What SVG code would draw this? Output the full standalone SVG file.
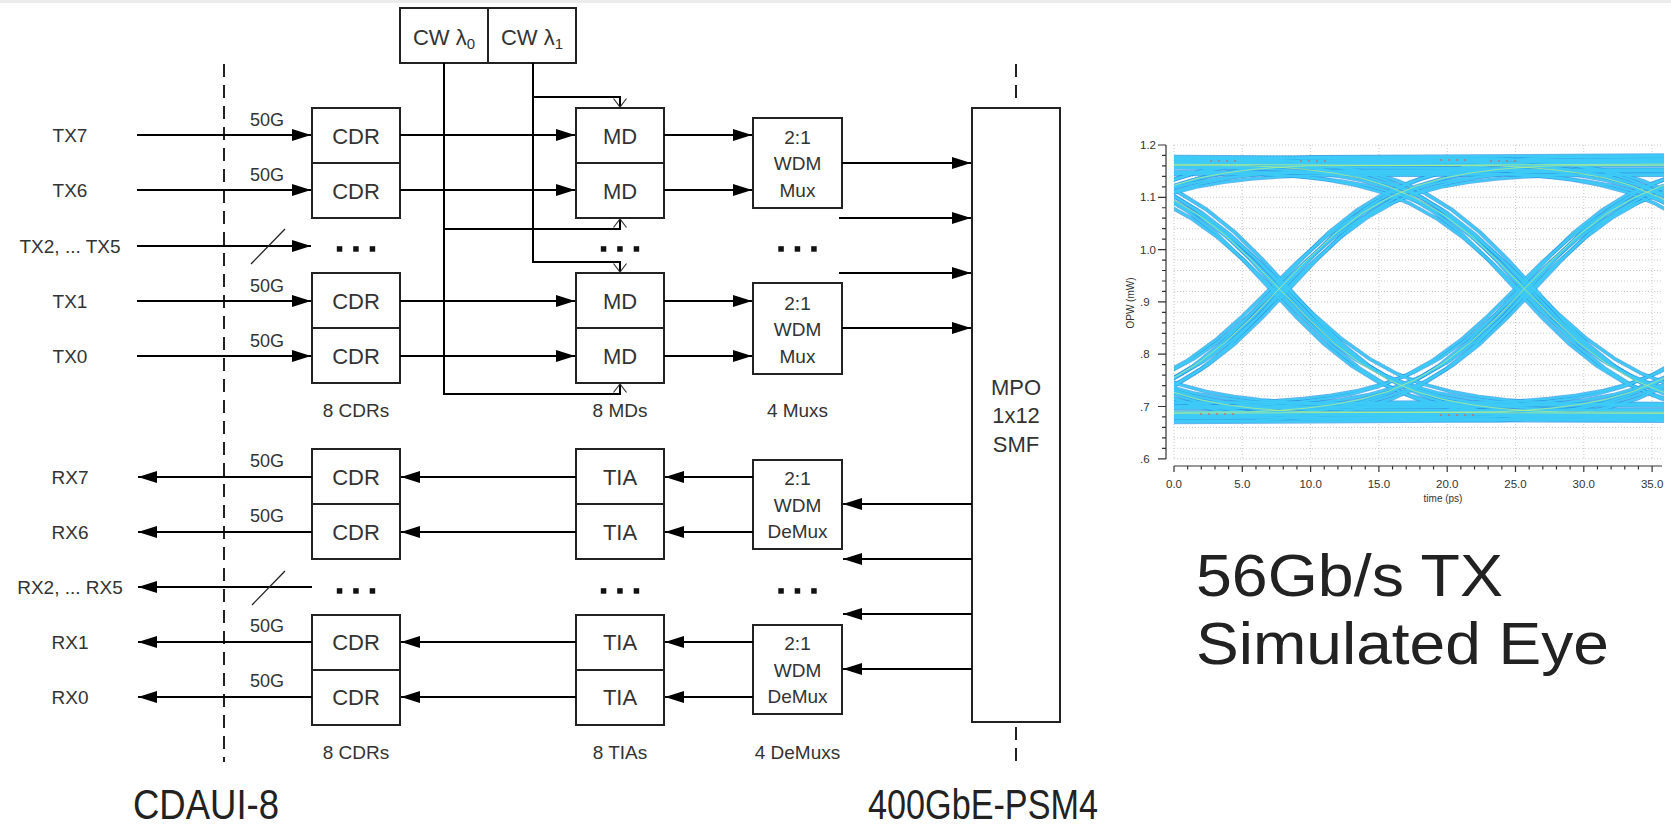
<svg xmlns="http://www.w3.org/2000/svg" width="1671" height="828" viewBox="0 0 1671 828">
<style>
.ln{stroke:#000;stroke-width:2;fill:none}
.sl{stroke:#222;stroke-width:1.3;fill:none}
.box{fill:#fff;stroke:#222;stroke-width:2}
.dv{stroke:#222;stroke-width:2}
.t{font-family:"Liberation Sans",Arial,sans-serif;fill:#333}
.lbl{font-size:19px;text-anchor:middle}
.bl{font-size:22px;text-anchor:middle}
.sm{font-size:19px;text-anchor:middle}
.g50{font-size:18px}
.dash{stroke:#222;stroke-width:2;stroke-dasharray:13 8;fill:none}
.dot{fill:#111}
.pt{font-family:"Liberation Sans",Arial,sans-serif;font-size:11.5px;fill:#333}
.grid{stroke:#c8c8c8;stroke-width:1;stroke-dasharray:1 2;fill:none}
.ax{stroke:#333;stroke-width:1.2;fill:none}
.big{font-family:"Liberation Sans",Arial,sans-serif;fill:#222}
</style>
<defs>
<marker id="ah" markerUnits="userSpaceOnUse" markerWidth="19" markerHeight="12" refX="19" refY="6" orient="auto"><path d="M0,0 L19,6 L0,12 Z" fill="#000"/></marker>
<marker id="chev" markerUnits="userSpaceOnUse" markerWidth="11" markerHeight="15" refX="9.5" refY="7" orient="auto"><path d="M1,0.5 L9.5,7 L1,13.5" fill="none" stroke="#333" stroke-width="1.2"/></marker>
<clipPath id="pc"><rect x="1174" y="145" width="490" height="315"/></clipPath>
<polyline id="e" points="-700,125 -273.2,123 -245.9,121.6 -218.6,119.4 -191.2,115.8 -163.9,110.6 -136.6,102.7 -109.3,91.1 -82,75 -54.6,54 -27.3,28.4 0,0 27.3,-28.4 54.6,-54 82,-75 109.3,-91.1 136.6,-102.7 163.9,-110.6 191.2,-115.8 218.6,-119.4 245.9,-121.6 273.2,-123 700,-125"/>
<g id="xing">
<use href="#e" transform="translate(-9,0) scale(1,0.95)"/>
<use href="#e" transform="translate(-5,0) scale(1,1.04)"/>
<use href="#e" transform="translate(-2,0) scale(1,0.92)"/>
<use href="#e" transform="translate(1,0) scale(1,1)"/>
<use href="#e" transform="translate(4,0) scale(1,1.07)"/>
<use href="#e" transform="translate(7,0) scale(1,0.96)"/>
<use href="#e" transform="translate(10,0) scale(1,1.02)"/>
<use href="#e" transform="translate(-9,0) scale(1,-1.03)"/>
<use href="#e" transform="translate(-6,0) scale(1,-0.94)"/>
<use href="#e" transform="translate(-2,0) scale(1,-1.06)"/>
<use href="#e" transform="translate(1,0) scale(1,-0.98)"/>
<use href="#e" transform="translate(5,0) scale(1,-1.01)"/>
<use href="#e" transform="translate(8,0) scale(1,-0.93)"/>
<use href="#e" transform="translate(10,0) scale(1,-1.05)"/>
</g>
</defs>
<rect x="0" y="0" width="1671" height="828" fill="#fff"/>
<rect x="0" y="0" width="1671" height="3" fill="#ebebeb"/>

<!-- interface boundaries -->
<g id="boundaries">
<line class="dash" x1="224" y1="64" x2="224" y2="762"/>
<line class="dash" x1="1016" y1="64" x2="1016" y2="100"/>
<line class="dash" x1="1016" y1="727" x2="1016" y2="764"/>
</g>

<!-- nodes -->
<g id="cw-sources">
<rect class="box" x="400" y="8" width="176" height="55"/>
<line class="dv" x1="488" y1="8" x2="488" y2="63"/>
<text class="t bl" x="444" y="45">CW λ<tspan font-size="15" dy="4">0</tspan></text>
<text class="t bl" x="532" y="45">CW λ<tspan font-size="15" dy="4">1</tspan></text>
</g>

<g id="tx-labels">
<text class="t lbl" x="70" y="142">TX7</text>
<text class="t lbl" x="70" y="197">TX6</text>
<text class="t lbl" x="70" y="253">TX2, ... TX5</text>
<text class="t lbl" x="70" y="308">TX1</text>
<text class="t lbl" x="70" y="363">TX0</text>
</g>
<g id="rx-labels">
<text class="t lbl" x="70" y="484">RX7</text>
<text class="t lbl" x="70" y="539">RX6</text>
<text class="t lbl" x="70" y="594">RX2, ... RX5</text>
<text class="t lbl" x="70" y="649">RX1</text>
<text class="t lbl" x="70" y="704">RX0</text>
</g>
<g id="rate-labels">
<text class="t g50" x="250" y="126">50G</text>
<text class="t g50" x="250" y="181">50G</text>
<text class="t g50" x="250" y="292">50G</text>
<text class="t g50" x="250" y="347">50G</text>
<text class="t g50" x="250" y="467">50G</text>
<text class="t g50" x="250" y="522">50G</text>
<text class="t g50" x="250" y="632">50G</text>
<text class="t g50" x="250" y="687">50G</text>
</g>

<g id="tx-cdr-a">
<rect class="box" x="312" y="108" width="88" height="110"/>
<line class="dv" x1="312" y1="163" x2="400" y2="163"/>
<text class="t bl" x="356" y="143.5">CDR</text>
<text class="t bl" x="356" y="198.5">CDR</text>
</g>
<g id="tx-cdr-b">
<rect class="box" x="312" y="273" width="88" height="110"/>
<line class="dv" x1="312" y1="328" x2="400" y2="328"/>
<text class="t bl" x="356" y="308.5">CDR</text>
<text class="t bl" x="356" y="363.5">CDR</text>
</g>
<g id="md-a">
<rect class="box" x="576" y="108" width="88" height="110"/>
<line class="dv" x1="576" y1="163" x2="664" y2="163"/>
<text class="t bl" x="620" y="143.5">MD</text>
<text class="t bl" x="620" y="198.5">MD</text>
</g>
<g id="md-b">
<rect class="box" x="576" y="273" width="88" height="110"/>
<line class="dv" x1="576" y1="328" x2="664" y2="328"/>
<text class="t bl" x="620" y="308.5">MD</text>
<text class="t bl" x="620" y="363.5">MD</text>
</g>
<g id="mux-a">
<rect class="box" x="753" y="118" width="89" height="90"/>
<text class="t sm" x="797.5" y="144">2:1</text>
<text class="t sm" x="797.5" y="170">WDM</text>
<text class="t sm" x="797.5" y="197">Mux</text>
</g>
<g id="mux-b">
<rect class="box" x="753" y="283" width="89" height="91"/>
<text class="t sm" x="797.5" y="309.5">2:1</text>
<text class="t sm" x="797.5" y="336">WDM</text>
<text class="t sm" x="797.5" y="362.5">Mux</text>
</g>
<g id="mpo">
<rect class="box" x="972" y="108" width="88" height="614"/>
<text class="t bl" x="1016" y="395">MPO</text>
<text class="t bl" x="1016" y="423">1x12</text>
<text class="t bl" x="1016" y="452">SMF</text>
</g>
<g id="rx-cdr-a">
<rect class="box" x="312" y="449" width="88" height="110"/>
<line class="dv" x1="312" y1="504" x2="400" y2="504"/>
<text class="t bl" x="356" y="485">CDR</text>
<text class="t bl" x="356" y="540">CDR</text>
</g>
<g id="rx-cdr-b">
<rect class="box" x="312" y="615" width="88" height="110"/>
<line class="dv" x1="312" y1="670" x2="400" y2="670"/>
<text class="t bl" x="356" y="650">CDR</text>
<text class="t bl" x="356" y="705">CDR</text>
</g>
<g id="tia-a">
<rect class="box" x="576" y="449" width="88" height="110"/>
<line class="dv" x1="576" y1="504" x2="664" y2="504"/>
<text class="t bl" x="620" y="485">TIA</text>
<text class="t bl" x="620" y="540">TIA</text>
</g>
<g id="tia-b">
<rect class="box" x="576" y="615" width="88" height="110"/>
<line class="dv" x1="576" y1="670" x2="664" y2="670"/>
<text class="t bl" x="620" y="650">TIA</text>
<text class="t bl" x="620" y="705">TIA</text>
</g>
<g id="demux-a">
<rect class="box" x="753" y="460" width="89" height="89"/>
<text class="t sm" x="797.5" y="485">2:1</text>
<text class="t sm" x="797.5" y="511.5">WDM</text>
<text class="t sm" x="797.5" y="538">DeMux</text>
</g>
<g id="demux-b">
<rect class="box" x="753" y="625" width="89" height="89"/>
<text class="t sm" x="797.5" y="650">2:1</text>
<text class="t sm" x="797.5" y="676.5">WDM</text>
<text class="t sm" x="797.5" y="703">DeMux</text>
</g>

<g id="ellipses">
<rect class="dot" x="336.8" y="246.2" width="5.5" height="5.5"/><rect class="dot" x="353.2" y="246.2" width="5.5" height="5.5"/><rect class="dot" x="369.7" y="246.2" width="5.5" height="5.5"/>
<rect class="dot" x="600.8" y="246.2" width="5.5" height="5.5"/><rect class="dot" x="617.2" y="246.2" width="5.5" height="5.5"/><rect class="dot" x="633.7" y="246.2" width="5.5" height="5.5"/>
<rect class="dot" x="778.3" y="246.2" width="5.5" height="5.5"/><rect class="dot" x="794.7" y="246.2" width="5.5" height="5.5"/><rect class="dot" x="811.2" y="246.2" width="5.5" height="5.5"/>
<rect class="dot" x="336.8" y="588.2" width="5.5" height="5.5"/><rect class="dot" x="353.2" y="588.2" width="5.5" height="5.5"/><rect class="dot" x="369.7" y="588.2" width="5.5" height="5.5"/>
<rect class="dot" x="600.8" y="588.2" width="5.5" height="5.5"/><rect class="dot" x="617.2" y="588.2" width="5.5" height="5.5"/><rect class="dot" x="633.7" y="588.2" width="5.5" height="5.5"/>
<rect class="dot" x="778.3" y="588.2" width="5.5" height="5.5"/><rect class="dot" x="794.7" y="588.2" width="5.5" height="5.5"/><rect class="dot" x="811.2" y="588.2" width="5.5" height="5.5"/>
</g>

<g id="count-labels">
<text class="t sm" x="356" y="417">8 CDRs</text>
<text class="t sm" x="620" y="417">8 MDs</text>
<text class="t sm" x="797.5" y="417">4 Muxs</text>
<text class="t sm" x="356" y="759">8 CDRs</text>
<text class="t sm" x="620" y="759">8 TIAs</text>
<text class="t sm" x="797.5" y="759">4 DeMuxs</text>
</g>

<!-- connectors -->
<g id="connectors">
<path class="ln" d="M137,135 H311" marker-end="url(#ah)"/>
<path class="ln" d="M137,190 H311" marker-end="url(#ah)"/>
<path class="ln" d="M137,246 H311" marker-end="url(#ah)"/>
<path class="ln" d="M137,301 H311" marker-end="url(#ah)"/>
<path class="ln" d="M137,356 H311" marker-end="url(#ah)"/>
<path class="sl" d="M251,264 L285,229"/>
<path class="ln" d="M400,135 H575" marker-end="url(#ah)"/>
<path class="ln" d="M400,190 H575" marker-end="url(#ah)"/>
<path class="ln" d="M400,301 H575" marker-end="url(#ah)"/>
<path class="ln" d="M400,356 H575" marker-end="url(#ah)"/>
<path class="ln" d="M664,135 H752" marker-end="url(#ah)"/>
<path class="ln" d="M664,190 H752" marker-end="url(#ah)"/>
<path class="ln" d="M664,301 H752" marker-end="url(#ah)"/>
<path class="ln" d="M664,356 H752" marker-end="url(#ah)"/>
<path class="ln" d="M842,163 H971" marker-end="url(#ah)"/>
<path class="ln" d="M839,218 H971" marker-end="url(#ah)"/>
<path class="ln" d="M839,273 H971" marker-end="url(#ah)"/>
<path class="ln" d="M842,328 H971" marker-end="url(#ah)"/>
<path class="ln" d="M533,63 V262 H620 V272" marker-end="url(#chev)"/>
<path class="ln" d="M533,97 H620 V107" marker-end="url(#chev)"/>
<path class="ln" d="M444,63 V394 H620 V384" marker-end="url(#chev)"/>
<path class="ln" d="M444,229 H620 V219" marker-end="url(#chev)"/>
<path class="ln" d="M972,504 H843" marker-end="url(#ah)"/>
<path class="ln" d="M972,559 H843" marker-end="url(#ah)"/>
<path class="ln" d="M972,614 H843" marker-end="url(#ah)"/>
<path class="ln" d="M972,669 H843" marker-end="url(#ah)"/>
<path class="ln" d="M753,477 H665" marker-end="url(#ah)"/>
<path class="ln" d="M753,532 H665" marker-end="url(#ah)"/>
<path class="ln" d="M753,642 H665" marker-end="url(#ah)"/>
<path class="ln" d="M753,697 H665" marker-end="url(#ah)"/>
<path class="ln" d="M576,477 H401" marker-end="url(#ah)"/>
<path class="ln" d="M576,532 H401" marker-end="url(#ah)"/>
<path class="ln" d="M576,642 H401" marker-end="url(#ah)"/>
<path class="ln" d="M576,697 H401" marker-end="url(#ah)"/>
<path class="ln" d="M312,477 H138" marker-end="url(#ah)"/>
<path class="ln" d="M312,532 H138" marker-end="url(#ah)"/>
<path class="ln" d="M312,587 H138" marker-end="url(#ah)"/>
<path class="ln" d="M312,642 H138" marker-end="url(#ah)"/>
<path class="ln" d="M312,697 H138" marker-end="url(#ah)"/>
<path class="sl" d="M252,605 L285,571"/>
</g>

<g id="interface-names">
<text class="big" x="133" y="819" font-size="43" textLength="146" lengthAdjust="spacingAndGlyphs">CDAUI-8</text>
<text class="big" x="868" y="819" font-size="43" textLength="230" lengthAdjust="spacingAndGlyphs">400GbE-PSM4</text>
</g>

<!-- eye diagram -->
<g id="eye-plot">
<path class="grid" d="M1174,145H1662M1174,155.46H1662M1174,165.92H1662M1174,176.38H1662M1174,186.84H1662M1174,197.3H1662M1174,207.76H1662M1174,218.22H1662M1174,228.68H1662M1174,239.14H1662M1174,249.6H1662M1174,260.06H1662M1174,270.52H1662M1174,280.98H1662M1174,291.44H1662M1174,301.9H1662M1174,312.36H1662M1174,322.82H1662M1174,333.28H1662M1174,343.74H1662M1174,354.2H1662M1174,364.66H1662M1174,375.12H1662M1174,385.58H1662M1174,396.04H1662M1174,406.5H1662M1174,416.96H1662M1174,427.42H1662M1174,437.88H1662M1174,448.34H1662M1174,458.8H1662M1174,145V459M1242.3,145V459M1310.6,145V459M1378.9,145V459M1447.2,145V459M1515.5,145V459M1583.8,145V459M1652.1,145V459"/>
<g clip-path="url(#pc)" fill="none" stroke-linejoin="round">
<g stroke="#2394e6" stroke-width="4" stroke-opacity="0.7">
<use href="#xing" x="1034.3" y="288.8"/>
<use href="#xing" x="1279.2" y="288.8"/>
<use href="#xing" x="1524.4" y="288.8"/>
<use href="#xing" x="1769.6" y="288.8"/>
</g>
<g stroke="#3dcaf6" stroke-width="2">
<use href="#xing" x="1034.3" y="288.8"/>
<use href="#xing" x="1279.2" y="288.8"/>
<use href="#xing" x="1524.4" y="288.8"/>
<use href="#xing" x="1769.6" y="288.8"/>
</g>
<g stroke="#c2f27c" stroke-width="0.8" stroke-opacity="0.85">
<use href="#e" transform="translate(1034.3,288.8)"/>
<use href="#e" transform="translate(1034.3,288.8) scale(1,-1)"/>
<use href="#e" transform="translate(1279.2,288.8)"/>
<use href="#e" transform="translate(1279.2,288.8) scale(1,-1)"/>
<use href="#e" transform="translate(1524.4,288.8)"/>
<use href="#e" transform="translate(1524.4,288.8) scale(1,-1)"/>
<use href="#e" transform="translate(1769.6,288.8)"/>
<use href="#e" transform="translate(1769.6,288.8) scale(1,-1)"/>
</g>
<path d="M1210,161 H1240 M1300,161 H1330 M1440,160 H1470 M1490,161 H1520 M1200,414 H1240 M1440,415 H1480" stroke="#e8503a" stroke-width="1" stroke-dasharray="2 6"/>
</g>
<path class="ax" d="M1166,145V459M1158,145H1166M1162,155.46H1166M1162,165.92H1166M1162,176.38H1166M1162,186.84H1166M1158,197.3H1166M1162,207.76H1166M1162,218.22H1166M1162,228.68H1166M1162,239.14H1166M1158,249.6H1166M1162,260.06H1166M1162,270.52H1166M1162,280.98H1166M1162,291.44H1166M1158,301.9H1166M1162,312.36H1166M1162,322.82H1166M1162,333.28H1166M1162,343.74H1166M1158,354.2H1166M1162,364.66H1166M1162,375.12H1166M1162,385.58H1166M1162,396.04H1166M1158,406.5H1166M1162,416.96H1166M1162,427.42H1166M1162,437.88H1166M1162,448.34H1166M1158,458.8H1166"/>
<path class="ax" d="M1174,466H1662M1174,466v6M1187.66,466v3.5M1201.32,466v3.5M1214.98,466v3.5M1228.64,466v3.5M1242.3,466v6M1255.96,466v3.5M1269.62,466v3.5M1283.28,466v3.5M1296.94,466v3.5M1310.6,466v6M1324.26,466v3.5M1337.92,466v3.5M1351.58,466v3.5M1365.24,466v3.5M1378.9,466v6M1392.56,466v3.5M1406.22,466v3.5M1419.88,466v3.5M1433.54,466v3.5M1447.2,466v6M1460.86,466v3.5M1474.52,466v3.5M1488.18,466v3.5M1501.84,466v3.5M1515.5,466v6M1529.16,466v3.5M1542.82,466v3.5M1556.48,466v3.5M1570.14,466v3.5M1583.8,466v6M1597.46,466v3.5M1611.12,466v3.5M1624.78,466v3.5M1638.44,466v3.5M1652.1,466v6"/>
<g class="pt">
<text x="1140" y="149">1.2</text>
<text x="1140" y="201.3">1.1</text>
<text x="1140" y="253.6">1.0</text>
<text x="1140" y="305.9">.9</text>
<text x="1140" y="358.2">.8</text>
<text x="1140" y="410.5">.7</text>
<text x="1140" y="462.8">.6</text>
</g>
<g class="pt" text-anchor="middle">
<text x="1174" y="488">0.0</text>
<text x="1242.3" y="488">5.0</text>
<text x="1310.6" y="488">10.0</text>
<text x="1378.9" y="488">15.0</text>
<text x="1447.2" y="488">20.0</text>
<text x="1515.5" y="488">25.0</text>
<text x="1583.8" y="488">30.0</text>
<text x="1652.1" y="488">35.0</text>
<text x="1443" y="502" font-size="10">time (ps)</text>
<text x="0" y="0" font-size="10" transform="translate(1134,303) rotate(-90)">OPW (mW)</text>
</g>
</g>

<g id="eye-caption">
<text class="big" x="1196" y="596" font-size="60" fill="#000" textLength="307" lengthAdjust="spacingAndGlyphs">56Gb/s TX</text>
<text class="big" x="1196" y="664" font-size="60" fill="#000" textLength="413" lengthAdjust="spacingAndGlyphs">Simulated Eye</text>
</g>
</svg>
